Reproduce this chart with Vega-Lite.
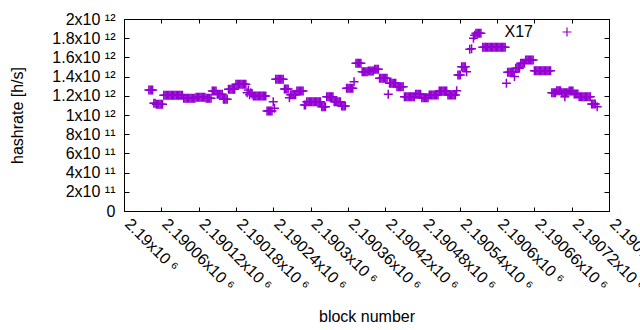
{
"$schema": "https://vega.github.io/schema/vega-lite/v6.json",
"width": 485, "height": 192,
"autosize": "none",
"padding": {"left": 124, "top": 19, "right": 31, "bottom": 119},
"background": "white",
"config": {
  "view": {"stroke": "black", "strokeWidth": 1},
  "font": "Liberation Sans",
  "axis": {"grid": false, "labelFont": "Liberation Sans", "titleFont": "Liberation Sans", "labelFontSize": 16, "titleFontSize": 16, "titleFontWeight": "normal", "labelColor": "black", "titleColor": "black", "tickColor": "black", "domainColor": "black", "labelFlush": false, "labelOverlap": false, "labelBound": false}
},
"data": {"values": [
{"b":2190040,"h":1.26e12},{"b":2190042,"h":1.26e12},{"b":2190044,"h":1.26e12},{"b":2190046,"h":1.26e12},
{"b":2190048,"h":1.122e12},{"b":2190050,"h":1.122e12},
{"b":2190052,"h":1.111e12},{"b":2190054,"h":1.111e12},{"b":2190056,"h":1.111e12},{"b":2190058,"h":1.111e12},{"b":2190060,"h":1.111e12},{"b":2190062,"h":1.111e12},
{"b":2190064,"h":1.205e12},{"b":2190066,"h":1.205e12},{"b":2190068,"h":1.205e12},{"b":2190070,"h":1.205e12},{"b":2190072,"h":1.205e12},{"b":2190074,"h":1.205e12},{"b":2190076,"h":1.205e12},{"b":2190078,"h":1.205e12},{"b":2190080,"h":1.205e12},{"b":2190082,"h":1.205e12},{"b":2190084,"h":1.205e12},{"b":2190086,"h":1.205e12},{"b":2190088,"h":1.205e12},{"b":2190090,"h":1.205e12},{"b":2190092,"h":1.205e12},{"b":2190094,"h":1.205e12},
{"b":2190096,"h":1.174e12},{"b":2190098,"h":1.174e12},{"b":2190100,"h":1.174e12},{"b":2190102,"h":1.174e12},{"b":2190104,"h":1.174e12},{"b":2190106,"h":1.174e12},{"b":2190108,"h":1.174e12},{"b":2190110,"h":1.174e12},{"b":2190112,"h":1.174e12},{"b":2190114,"h":1.174e12},
{"b":2190116,"h":1.184e12},{"b":2190118,"h":1.184e12},{"b":2190120,"h":1.184e12},{"b":2190122,"h":1.184e12},{"b":2190124,"h":1.184e12},{"b":2190126,"h":1.184e12},{"b":2190128,"h":1.184e12},{"b":2190130,"h":1.184e12},
{"b":2190132,"h":1.174e12},{"b":2190134,"h":1.174e12},{"b":2190136,"h":1.174e12},{"b":2190138,"h":1.174e12},{"b":2190140,"h":1.174e12},
{"b":2190142,"h":1.25e12},{"b":2190144,"h":1.25e12},{"b":2190146,"h":1.25e12},{"b":2190148,"h":1.25e12},
{"b":2190150,"h":1.215e12},{"b":2190152,"h":1.215e12},{"b":2190154,"h":1.215e12},{"b":2190156,"h":1.215e12},{"b":2190158,"h":1.215e12},
{"b":2190160,"h":1.163e12},{"b":2190162,"h":1.163e12},{"b":2190164,"h":1.163e12},{"b":2190166,"h":1.163e12},
{"b":2190168,"h":1.268e12},{"b":2190170,"h":1.268e12},{"b":2190172,"h":1.268e12},{"b":2190174,"h":1.268e12},{"b":2190176,"h":1.268e12},{"b":2190178,"h":1.268e12},
{"b":2190180,"h":1.32e12},{"b":2190182,"h":1.32e12},{"b":2190184,"h":1.32e12},{"b":2190186,"h":1.32e12},{"b":2190188,"h":1.32e12},{"b":2190190,"h":1.32e12},{"b":2190192,"h":1.32e12},{"b":2190194,"h":1.32e12},{"b":2190196,"h":1.32e12},
{"b":2190198,"h":1.232e12},{"b":2190200,"h":1.26e12},{"b":2190202,"h":1.21e12},{"b":2190204,"h":1.232e12},{"b":2190206,"h":1.22e12},
{"b":2190208,"h":1.198e12},{"b":2190210,"h":1.198e12},{"b":2190212,"h":1.198e12},{"b":2190214,"h":1.198e12},{"b":2190216,"h":1.198e12},{"b":2190218,"h":1.198e12},{"b":2190220,"h":1.198e12},{"b":2190222,"h":1.198e12},{"b":2190224,"h":1.198e12},{"b":2190226,"h":1.198e12},{"b":2190228,"h":1.198e12},
{"b":2190230,"h":1.042e12},{"b":2190232,"h":1.042e12},{"b":2190234,"h":1.042e12},{"b":2190236,"h":1.042e12},{"b":2190238,"h":1.042e12},
{"b":2190240,"h":1.139e12},{"b":2190242,"h":1.07e12},
{"b":2190244,"h":1.372e12},{"b":2190246,"h":1.372e12},{"b":2190248,"h":1.372e12},{"b":2190250,"h":1.372e12},{"b":2190252,"h":1.372e12},{"b":2190254,"h":1.372e12},{"b":2190256,"h":1.372e12},
{"b":2190258,"h":1.27e12},{"b":2190260,"h":1.27e12},{"b":2190262,"h":1.27e12},{"b":2190264,"h":1.27e12},
{"b":2190266,"h":1.18e12},
{"b":2190268,"h":1.21e12},{"b":2190270,"h":1.21e12},{"b":2190272,"h":1.21e12},{"b":2190274,"h":1.21e12},{"b":2190276,"h":1.21e12},
{"b":2190278,"h":1.25e12},{"b":2190280,"h":1.25e12},{"b":2190282,"h":1.25e12},{"b":2190284,"h":1.25e12},{"b":2190286,"h":1.25e12},{"b":2190288,"h":1.25e12},
{"b":2190290,"h":1.104e12},{"b":2190292,"h":1.104e12},
{"b":2190294,"h":1.139e12},{"b":2190296,"h":1.139e12},{"b":2190298,"h":1.139e12},{"b":2190300,"h":1.139e12},{"b":2190302,"h":1.139e12},{"b":2190304,"h":1.139e12},{"b":2190306,"h":1.139e12},{"b":2190308,"h":1.139e12},{"b":2190310,"h":1.139e12},{"b":2190312,"h":1.139e12},{"b":2190314,"h":1.139e12},{"b":2190316,"h":1.139e12},
{"b":2190318,"h":1.087e12},{"b":2190320,"h":1.087e12},{"b":2190322,"h":1.087e12},{"b":2190324,"h":1.087e12},
{"b":2190326,"h":1.19e12},{"b":2190328,"h":1.19e12},{"b":2190330,"h":1.19e12},{"b":2190332,"h":1.19e12},{"b":2190334,"h":1.19e12},{"b":2190336,"h":1.19e12},
{"b":2190338,"h":1.139e12},{"b":2190340,"h":1.139e12},{"b":2190342,"h":1.139e12},{"b":2190344,"h":1.139e12},{"b":2190346,"h":1.139e12},{"b":2190348,"h":1.139e12},
{"b":2190350,"h":1.094e12},{"b":2190352,"h":1.094e12},{"b":2190354,"h":1.094e12},{"b":2190356,"h":1.094e12},
{"b":2190358,"h":1.278e12},{"b":2190360,"h":1.278e12},{"b":2190362,"h":1.278e12},{"b":2190364,"h":1.278e12},{"b":2190366,"h":1.278e12},{"b":2190368,"h":1.278e12},
{"b":2190370,"h":1.347e12},
{"b":2190373,"h":1.538e12},{"b":2190375,"h":1.538e12},{"b":2190377,"h":1.538e12},{"b":2190379,"h":1.538e12},{"b":2190381,"h":1.538e12},
{"b":2190383,"h":1.451e12},{"b":2190385,"h":1.451e12},{"b":2190387,"h":1.451e12},{"b":2190389,"h":1.451e12},{"b":2190391,"h":1.451e12},
{"b":2190393,"h":1.458e12},{"b":2190395,"h":1.458e12},{"b":2190397,"h":1.458e12},{"b":2190399,"h":1.458e12},{"b":2190401,"h":1.458e12},
{"b":2190403,"h":1.476e12},{"b":2190405,"h":1.476e12},{"b":2190407,"h":1.476e12},{"b":2190409,"h":1.476e12},
{"b":2190411,"h":1.382e12},{"b":2190413,"h":1.382e12},{"b":2190415,"h":1.382e12},{"b":2190417,"h":1.382e12},{"b":2190419,"h":1.382e12},{"b":2190421,"h":1.382e12},{"b":2190423,"h":1.382e12},
{"b":2190425,"h":1.215e12},
{"b":2190427,"h":1.33e12},{"b":2190429,"h":1.33e12},{"b":2190431,"h":1.33e12},{"b":2190433,"h":1.33e12},{"b":2190435,"h":1.33e12},{"b":2190437,"h":1.33e12},
{"b":2190439,"h":1.295e12},{"b":2190441,"h":1.295e12},{"b":2190443,"h":1.295e12},{"b":2190445,"h":1.295e12},{"b":2190447,"h":1.295e12},{"b":2190449,"h":1.295e12},
{"b":2190451,"h":1.19e12},{"b":2190453,"h":1.19e12},{"b":2190455,"h":1.19e12},{"b":2190457,"h":1.19e12},{"b":2190459,"h":1.19e12},{"b":2190461,"h":1.19e12},{"b":2190463,"h":1.19e12},{"b":2190465,"h":1.19e12},{"b":2190467,"h":1.19e12},
{"b":2190469,"h":1.215e12},{"b":2190471,"h":1.215e12},{"b":2190473,"h":1.215e12},{"b":2190475,"h":1.215e12},{"b":2190477,"h":1.215e12},
{"b":2190479,"h":1.18e12},{"b":2190481,"h":1.18e12},{"b":2190483,"h":1.18e12},{"b":2190485,"h":1.18e12},{"b":2190487,"h":1.18e12},{"b":2190489,"h":1.18e12},
{"b":2190491,"h":1.208e12},{"b":2190493,"h":1.208e12},{"b":2190495,"h":1.208e12},{"b":2190497,"h":1.208e12},{"b":2190499,"h":1.208e12},{"b":2190501,"h":1.208e12},{"b":2190503,"h":1.208e12},{"b":2190505,"h":1.208e12},
{"b":2190507,"h":1.25e12},{"b":2190509,"h":1.25e12},{"b":2190511,"h":1.25e12},{"b":2190513,"h":1.25e12},{"b":2190515,"h":1.25e12},{"b":2190517,"h":1.25e12},{"b":2190519,"h":1.25e12},
{"b":2190521,"h":1.208e12},{"b":2190523,"h":1.208e12},{"b":2190525,"h":1.208e12},{"b":2190527,"h":1.208e12},{"b":2190529,"h":1.208e12},{"b":2190531,"h":1.208e12},{"b":2190533,"h":1.208e12},
{"b":2190535,"h":1.253e12},
{"b":2190537,"h":1.417e12},{"b":2190539,"h":1.417e12},{"b":2190541,"h":1.417e12},
{"b":2190543,"h":1.503e12},{"b":2190545,"h":1.503e12},{"b":2190547,"h":1.503e12},{"b":2190549,"h":1.503e12},
{"b":2190551,"h":1.45e12},
{"b":2190556,"h":1.684e12},{"b":2190559,"h":1.69e12},{"b":2190562,"h":1.8e12},{"b":2190564,"h":1.83e12},
{"b":2190566,"h":1.851e12},{"b":2190568,"h":1.851e12},{"b":2190570,"h":1.851e12},{"b":2190572,"h":1.851e12},{"b":2190574,"h":1.851e12},
{"b":2190577,"h":1.705e12},{"b":2190579,"h":1.705e12},{"b":2190581,"h":1.705e12},{"b":2190583,"h":1.705e12},{"b":2190585,"h":1.705e12},{"b":2190587,"h":1.705e12},{"b":2190589,"h":1.705e12},{"b":2190591,"h":1.705e12},{"b":2190593,"h":1.705e12},{"b":2190595,"h":1.705e12},{"b":2190597,"h":1.705e12},{"b":2190599,"h":1.705e12},{"b":2190601,"h":1.705e12},{"b":2190603,"h":1.705e12},{"b":2190605,"h":1.705e12},{"b":2190607,"h":1.705e12},{"b":2190609,"h":1.705e12},{"b":2190611,"h":1.705e12},{"b":2190613,"h":1.705e12},
{"b":2190615,"h":1.33e12},
{"b":2190617,"h":1.445e12},{"b":2190619,"h":1.445e12},{"b":2190621,"h":1.445e12},{"b":2190623,"h":1.445e12},{"b":2190625,"h":1.445e12},{"b":2190627,"h":1.445e12},
{"b":2190628,"h":1.40e12},
{"b":2190630,"h":1.486e12},{"b":2190632,"h":1.486e12},{"b":2190634,"h":1.486e12},{"b":2190636,"h":1.486e12},
{"b":2190638,"h":1.538e12},{"b":2190640,"h":1.538e12},{"b":2190642,"h":1.538e12},{"b":2190644,"h":1.538e12},
{"b":2190646,"h":1.573e12},{"b":2190648,"h":1.573e12},{"b":2190650,"h":1.573e12},{"b":2190652,"h":1.573e12},{"b":2190654,"h":1.573e12},{"b":2190656,"h":1.573e12},{"b":2190658,"h":1.573e12},
{"b":2190660,"h":1.461e12},{"b":2190662,"h":1.461e12},{"b":2190664,"h":1.461e12},{"b":2190666,"h":1.461e12},{"b":2190668,"h":1.461e12},{"b":2190670,"h":1.461e12},{"b":2190672,"h":1.461e12},{"b":2190674,"h":1.461e12},{"b":2190676,"h":1.461e12},{"b":2190678,"h":1.461e12},{"b":2190680,"h":1.461e12},{"b":2190682,"h":1.461e12},{"b":2190684,"h":1.461e12},{"b":2190686,"h":1.461e12},
{"b":2190688,"h":1.232e12},{"b":2190690,"h":1.232e12},{"b":2190692,"h":1.232e12},{"b":2190694,"h":1.232e12},
{"b":2190696,"h":1.253e12},{"b":2190698,"h":1.253e12},{"b":2190700,"h":1.253e12},{"b":2190702,"h":1.253e12},
{"b":2190704,"h":1.232e12},{"b":2190706,"h":1.232e12},{"b":2190708,"h":1.232e12},{"b":2190709,"h":1.19e12},{"b":2190710,"h":1.232e12},{"b":2190712,"h":1.232e12},{"b":2190714,"h":1.232e12},
{"b":2190716,"h":1.25e12},{"b":2190718,"h":1.25e12},{"b":2190720,"h":1.25e12},{"b":2190722,"h":1.25e12},
{"b":2190724,"h":1.219e12},{"b":2190726,"h":1.219e12},{"b":2190728,"h":1.219e12},{"b":2190730,"h":1.219e12},
{"b":2190732,"h":1.19e12},{"b":2190734,"h":1.19e12},{"b":2190736,"h":1.19e12},{"b":2190738,"h":1.19e12},{"b":2190740,"h":1.19e12},{"b":2190742,"h":1.19e12},{"b":2190744,"h":1.19e12},{"b":2190746,"h":1.19e12},{"b":2190748,"h":1.19e12},{"b":2190750,"h":1.19e12},
{"b":2190752,"h":1.115e12},{"b":2190754,"h":1.115e12},{"b":2190756,"h":1.115e12},{"b":2190758,"h":1.115e12},
{"b":2190761,"h":1.087e12}
]},
"layer": [
  {
    "mark": {"type": "point", "shape": "M-1,0H1M0,-1V1", "size": 81, "strokeWidth": 1.5, "filled": false, "opacity": 1},
    "encoding": {
      "x": {"field": "b", "type": "quantitative",
        "scale": {"domain": [2190000, 2190780], "nice": false, "zero": false},
        "axis": {"orient": "bottom", "values": [2190000,2190060,2190120,2190180,2190240,2190300,2190360,2190420,2190480,2190540,2190600,2190660,2190720,2190780],
          "labelExpr": "format(datum.value/1e6, '.5~f') + 'x10 ⁶'",
          "labelAngle": 45, "labelAlign": "left", "labelBaseline": "middle", "labelPadding": 14, "labelOffset": 3,
          "tickSize": -4, "title": "block number", "titleX": 242.5, "titleY": 105, "titleBaseline": "middle", "titleAlign": "center"}},
      "y": {"field": "h", "type": "quantitative",
        "scale": {"domain": [0, 2e12], "nice": false},
        "axis": {"orient": "left", "values": [0,200000000000,400000000000,600000000000,800000000000,1000000000000,1200000000000,1400000000000,1600000000000,1800000000000,2000000000000],
          "labelExpr": "datum.value == 0 ? '0' : (datum.value < 1e12 ? format(datum.value/1e11, '.0f') + 'x10 ¹¹' : format(datum.value/1e12, '.1~f') + 'x10 ¹²')",
          "labelPadding": 14, "labelBaseline": "middle", "tickSize": -5,
          "title": "hashrate [h/s]", "titleX": -107, "titleY": 96, "titleAngle": -90, "titleBaseline": "middle", "titleAlign": "center"}},
      "color": {"datum": "X17", "type": "nominal", "scale": {"range": ["#9400d3"]},
        "legend": {"orient": "none", "legendX": 435, "legendY": 5, "title": null, "padding": 0,
          "symbolType": "M-1,0H1M0,-1V1", "symbolSize": 81, "symbolStrokeWidth": 1.2, "symbolFillColor": "transparent", "symbolStrokeColor": "#9400d3",
          "labelFont": "Liberation Sans", "labelFontSize": 16, "labelColor": "black", "labelAlign": "right", "labelOffset": -42}}
    }
  },
  {
    "mark": {"type": "point", "opacity": 0},
    "encoding": {
      "x": {"field": "b", "type": "quantitative", "axis": {"orient": "top", "values": [2190000,2190060,2190120,2190180,2190240,2190300,2190360,2190420,2190480,2190540,2190600,2190660,2190720,2190780], "labels": false, "tickSize": -4, "title": null}},
      "y": {"field": "h", "type": "quantitative", "axis": {"orient": "right", "values": [0,200000000000,400000000000,600000000000,800000000000,1000000000000,1200000000000,1400000000000,1600000000000,1800000000000,2000000000000], "labels": false, "tickSize": -5, "title": null}}
    }
  }
],
"resolve": {"axis": {"x": "independent", "y": "independent"}}
}
